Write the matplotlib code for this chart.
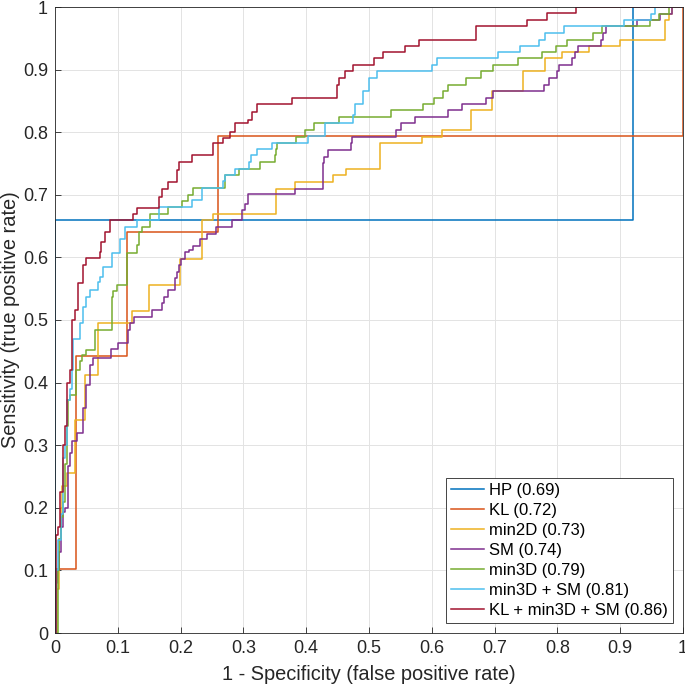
import matplotlib
matplotlib.use("Agg")
import matplotlib.pyplot as plt
import numpy as np

# ROC staircase vertices: at each x the curve rises to y (steps-post)
hp_x = [0, 0, 0.92, 1]
hp_y = [0, 0.66, 1.0, 1]

kl_x = [0, 0.002, 0.033, 0.115, 0.259, 1, 1]
kl_y = [0, 0.103, 0.442, 0.64, 0.794, 1.0, 1]

min2d_x = [0, 0.003, 0.006, 0.009, 0.011, 0.019, 0.032, 0.048, 0.069, 0.122, 0.149,
           0.199, 0.234, 0.251, 0.352, 0.382, 0.442, 0.463, 0.518, 0.585, 0.617,
           0.662, 0.696, 0.746, 0.781, 0.808, 0.851, 0.9, 0.972, 0.977, 0.982, 1]
min2d_y = [0, 0.07, 0.15, 0.2, 0.235, 0.256, 0.34, 0.412, 0.495, 0.515, 0.556,
           0.598, 0.66, 0.67, 0.71, 0.721, 0.732, 0.742, 0.783, 0.793, 0.803,
           0.835, 0.866, 0.897, 0.918, 0.928, 0.938, 0.948, 0.979, 0.989, 1.0, 1]

sm_x = [0, 0.002, 0.003, 0.006, 0.01, 0.013, 0.016, 0.021, 0.024, 0.027, 0.035, 0.045,
        0.05, 0.056, 0.06, 0.089, 0.1, 0.116, 0.12, 0.125, 0.154, 0.17, 0.173, 0.18,
        0.191, 0.195, 0.198, 0.2, 0.207, 0.213, 0.219, 0.231, 0.242, 0.257, 0.282,
        0.298, 0.302, 0.308, 0.382, 0.427, 0.429, 0.434, 0.471, 0.473, 0.543, 0.551,
        0.573, 0.625, 0.648, 0.687, 0.697, 0.779, 0.786, 0.799, 0.803, 0.823, 0.828,
        0.833, 0.87, 0.873, 0.878, 0.926, 0.963, 0.982, 1]
sm_y = [0, 0.08, 0.1, 0.13, 0.17, 0.194, 0.2, 0.266, 0.287, 0.307, 0.319, 0.359,
        0.396, 0.428, 0.439, 0.453, 0.464, 0.484, 0.495, 0.504, 0.516, 0.527, 0.537,
        0.548, 0.567, 0.577, 0.588, 0.598, 0.608, 0.612, 0.618, 0.629, 0.638, 0.649,
        0.66, 0.676, 0.686, 0.701, 0.71, 0.751, 0.761, 0.772, 0.783, 0.793, 0.803,
        0.814, 0.825, 0.835, 0.845, 0.855, 0.866, 0.875, 0.886, 0.898, 0.907, 0.918,
        0.928, 0.938, 0.948, 0.959, 0.969, 0.979, 0.989, 1.0, 1]

min3d_x = [0, 0.004, 0.007, 0.01, 0.013, 0.016, 0.019, 0.021, 0.024, 0.034, 0.04,
           0.043, 0.05, 0.064, 0.09, 0.093, 0.098, 0.115, 0.13, 0.134, 0.138, 0.152,
           0.18, 0.202, 0.212, 0.22, 0.27, 0.293, 0.326, 0.35, 0.352, 0.354, 0.384,
           0.398, 0.412, 0.453, 0.535, 0.586, 0.604, 0.618, 0.626, 0.655, 0.678,
           0.698, 0.737, 0.775, 0.798, 0.815, 0.856, 0.871, 0.947, 0.962, 0.978, 1]
min3d_y = [0, 0.1, 0.15, 0.186, 0.21, 0.27, 0.33, 0.372, 0.38, 0.42, 0.434,
           0.444, 0.452, 0.484, 0.537, 0.546, 0.556, 0.607, 0.62, 0.64, 0.649, 0.67,
           0.68, 0.69, 0.7, 0.711, 0.732, 0.742, 0.753, 0.763, 0.773, 0.782, 0.793,
           0.803, 0.814, 0.825, 0.835, 0.845, 0.855, 0.866, 0.876, 0.886, 0.897,
           0.907, 0.918, 0.928, 0.938, 0.948, 0.959, 0.969, 0.979, 0.989, 1.0, 1]

min3d_sm_x = [0, 0.002, 0.005, 0.009, 0.012, 0.016, 0.019, 0.024, 0.027, 0.029, 0.04,
              0.045, 0.05, 0.056, 0.069, 0.072, 0.077, 0.09, 0.103, 0.111, 0.13, 0.166,
              0.218, 0.234, 0.267, 0.27, 0.287, 0.309, 0.312, 0.321, 0.345, 0.403,
              0.43, 0.475, 0.478, 0.491, 0.5, 0.513, 0.6, 0.608, 0.706, 0.741, 0.771,
              0.78, 0.81, 0.906, 0.949, 0.956, 1]
min3d_sm_y = [0, 0.1, 0.149, 0.19, 0.28, 0.3, 0.372, 0.39, 0.42, 0.47, 0.495,
              0.52, 0.537, 0.548, 0.56, 0.569, 0.585, 0.607, 0.63, 0.649, 0.66, 0.68,
              0.692, 0.711, 0.722, 0.732, 0.742, 0.753, 0.763, 0.773, 0.783, 0.794,
              0.814, 0.827, 0.845, 0.866, 0.886, 0.898, 0.907, 0.918, 0.928, 0.938, 0.948,
              0.959, 0.969, 0.979, 0.989, 1.0, 1]

combo_x = [0, 0.001, 0.004, 0.008, 0.013, 0.016, 0.019, 0.024, 0.027, 0.032, 0.037,
           0.045, 0.049, 0.071, 0.074, 0.08, 0.0876, 0.124, 0.131, 0.166, 0.17, 0.18,
           0.195, 0.198, 0.218, 0.251, 0.268, 0.278, 0.287, 0.308, 0.313, 0.321,
           0.377, 0.449, 0.453, 0.462, 0.475, 0.508, 0.522, 0.558, 0.579, 0.671,
           0.751, 0.784, 0.829, 1]
combo_y = [0, 0.157, 0.17, 0.226, 0.3, 0.33, 0.4, 0.42, 0.5, 0.516, 0.559,
           0.588, 0.599, 0.609, 0.625, 0.64, 0.66, 0.67, 0.679, 0.697, 0.71, 0.72,
           0.74, 0.753, 0.763, 0.783, 0.79, 0.8, 0.814, 0.82, 0.833, 0.845,
           0.855, 0.875, 0.886, 0.898, 0.907, 0.918, 0.928, 0.938, 0.948, 0.969,
           0.979, 0.99, 1.0, 1]

series = [
    ("HP (0.69)", hp_x, hp_y, "#0072BD"),
    ("KL (0.72)", kl_x, kl_y, "#D95319"),
    ("min2D (0.73)", min2d_x, min2d_y, "#EDB120"),
    ("SM (0.74)", sm_x, sm_y, "#7E2F8E"),
    ("min3D (0.79)", min3d_x, min3d_y, "#77AC30"),
    ("min3D + SM (0.81)", min3d_sm_x, min3d_sm_y, "#4DBEEE"),
    ("KL + min3D + SM (0.86)", combo_x, combo_y, "#A2142F"),
]

ticks = np.round(np.arange(0, 1.01, 0.1), 1)
tick_labels = ["0"] + [f"{t:g}" for t in ticks[1:-1]] + ["1"]

plt.rcParams["font.family"] = ["Liberation Sans", "DejaVu Sans"]

fig = plt.figure(figsize=(6.85, 6.87), dpi=100)
ax = fig.add_axes([55 / 685, 54 / 687, 628 / 685, 626 / 687])

for label, xs, ys, color in series:
    ax.plot(xs, ys, drawstyle="steps-post", color=color, lw=1.1, label=label)

ax.set_xlim(0, 1)
ax.set_ylim(0, 1)
ax.set_xticks(ticks)
ax.set_yticks(ticks)
ax.set_xticklabels(tick_labels)
ax.set_yticklabels(tick_labels)
ax.tick_params(direction="in", length=4, width=0.6, labelsize=13, colors="#262626",
               top=False, right=False, pad=5)
ax.grid(True, color="#e3e3e3", lw=0.7)
ax.set_axisbelow(True)
for s in ax.spines.values():
    s.set_color("#262626")
    s.set_linewidth(0.6)

ax.set_xlabel("1 - Specificity (false positive rate)", fontsize=14.4, color="#262626", labelpad=6)
ax.set_ylabel("Sensitivity (true positive rate)", fontsize=14.4, color="#262626", labelpad=2)

leg = ax.legend(loc="lower right", fontsize=12, frameon=True, fancybox=False,
                edgecolor="#262626", framealpha=1, handlelength=2.0, labelspacing=0.3,
                borderpad=0.3, handletextpad=0.3, borderaxespad=0.6)
leg.get_frame().set_linewidth(0.6)

fig.savefig("out.png", dpi=100)
